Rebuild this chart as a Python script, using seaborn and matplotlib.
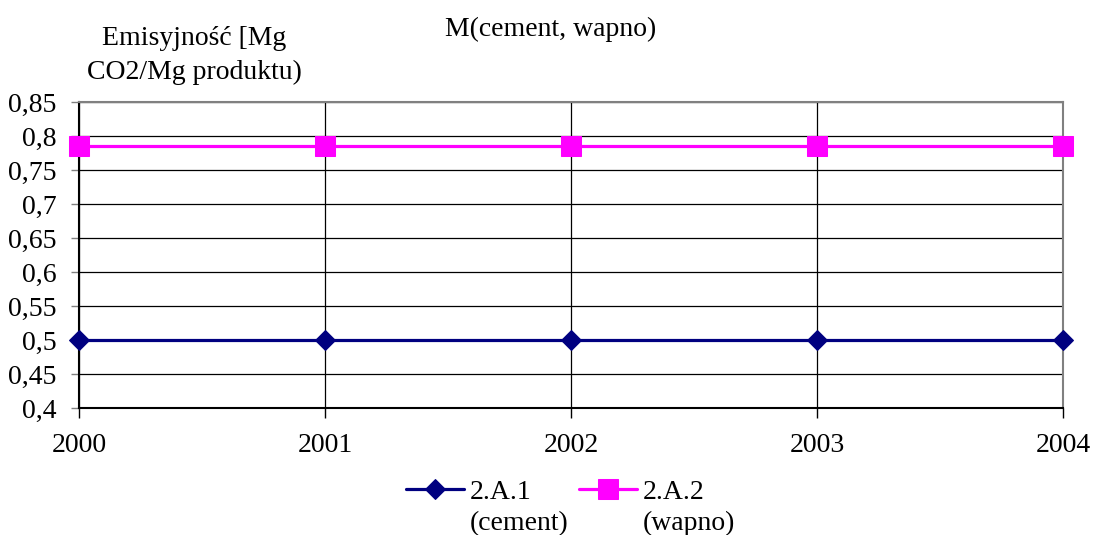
import numpy as np
import pandas as pd
import seaborn as sns
import matplotlib.pyplot as plt

# data
years = [2000, 2001, 2002, 2003, 2004]
cement = [0.5, 0.5, 0.5, 0.5, 0.5]
wapno = [0.785, 0.785, 0.785, 0.785, 0.785]
y_ticks = [0.4, 0.45, 0.5, 0.55, 0.6, 0.65, 0.7, 0.75, 0.8, 0.85]
y_tick_labels = ["0,4", "0,45", "0,5", "0,55", "0,6", "0,65", "0,7", "0,75", "0,8", "0,85"]
series_names = ["2.A.1", "2.A.2"]
series_notes = ["(cement)", "(wapno)"]


def main():
    sns.set_style("white")
    plt.rcParams['font.family'] = ['Liberation Serif', 'DejaVu Serif']
    plt.rcParams['text.color'] = 'black'
    plt.rcParams['xtick.labelcolor'] = 'black'
    plt.rcParams['ytick.labelcolor'] = 'black'
    fs = 20

    df = pd.DataFrame({"year": years, "cement": cement, "wapno": wapno})

    fig = plt.figure(figsize=(10.93, 5.35), dpi=100)
    ax = fig.add_axes([0.0723, 0.2374, 0.9003, 0.5719])

    sns.lineplot(data=df, x="year", y="cement", ax=ax, color="#000080",
                 linewidth=2.3, marker="D", markersize=10.2, markeredgecolor="#000080",
                 label=series_names[0], clip_on=False, zorder=5)
    sns.lineplot(data=df, x="year", y="wapno", ax=ax, color="#FF00FF",
                 linewidth=2.3, marker="s", markersize=14, markeredgecolor="#FF00FF",
                 label=series_names[1], clip_on=False, zorder=5)

    ax.set_xlim(years[0], years[-1])
    ax.set_ylim(y_ticks[0], y_ticks[-1])
    ax.set_xticks(years)
    ax.set_xticklabels([str(y) for y in years])
    ax.set_yticks(y_ticks)
    ax.set_yticklabels(y_tick_labels)
    ax.set_xlabel("")
    ax.set_ylabel("")

    ax.grid(True, color="black", linewidth=0.9)
    ax.tick_params(axis="x", length=7, width=1, color="black", pad=11, labelsize=fs,
                   labelcolor="black")
    ax.tick_params(axis="y", length=6, width=1, color="#808080", pad=10, labelsize=fs,
                   labelcolor="black")
    ax.tick_params(bottom=True, left=True)

    for side in ["top", "right"]:
        ax.spines[side].set_color("#808080")
        ax.spines[side].set_linewidth(1.5)
    for side in ["left", "bottom"]:
        ax.spines[side].set_color("black")
        ax.spines[side].set_linewidth(1.5)

    fig.text(0.504, 0.945, "M(cement, wapno)", ha="center", va="center", fontsize=fs,
             color="black")
    fig.text(0.178, 0.896, "Emisyjność [Mg\nCO2/Mg produktu)", ha="center", va="center",
             fontsize=fs, linespacing=1.45, color="black")

    ax.get_legend().remove()
    handles, labels = ax.get_legend_handles_labels()
    leg = fig.legend(handles, labels, loc="center", bbox_to_anchor=(0.508, 0.080), ncol=2,
                     frameon=False, fontsize=fs, handlelength=2.1, handletextpad=0.2,
                     columnspacing=1.7, labelcolor="black")

    # second line of each legend entry, placed under the first one
    fig.canvas.draw()
    inv = fig.transFigure.inverted()
    for txt, note in zip(leg.get_texts(), series_notes):
        bb = txt.get_window_extent()
        x0, y0 = inv.transform((bb.x0, bb.y0))
        fig.text(x0, y0 - 0.012, note, ha="left", va="top", fontsize=fs, color="black")

    fig.savefig("out.png", dpi=100)


if __name__ == "__main__":
    main()
